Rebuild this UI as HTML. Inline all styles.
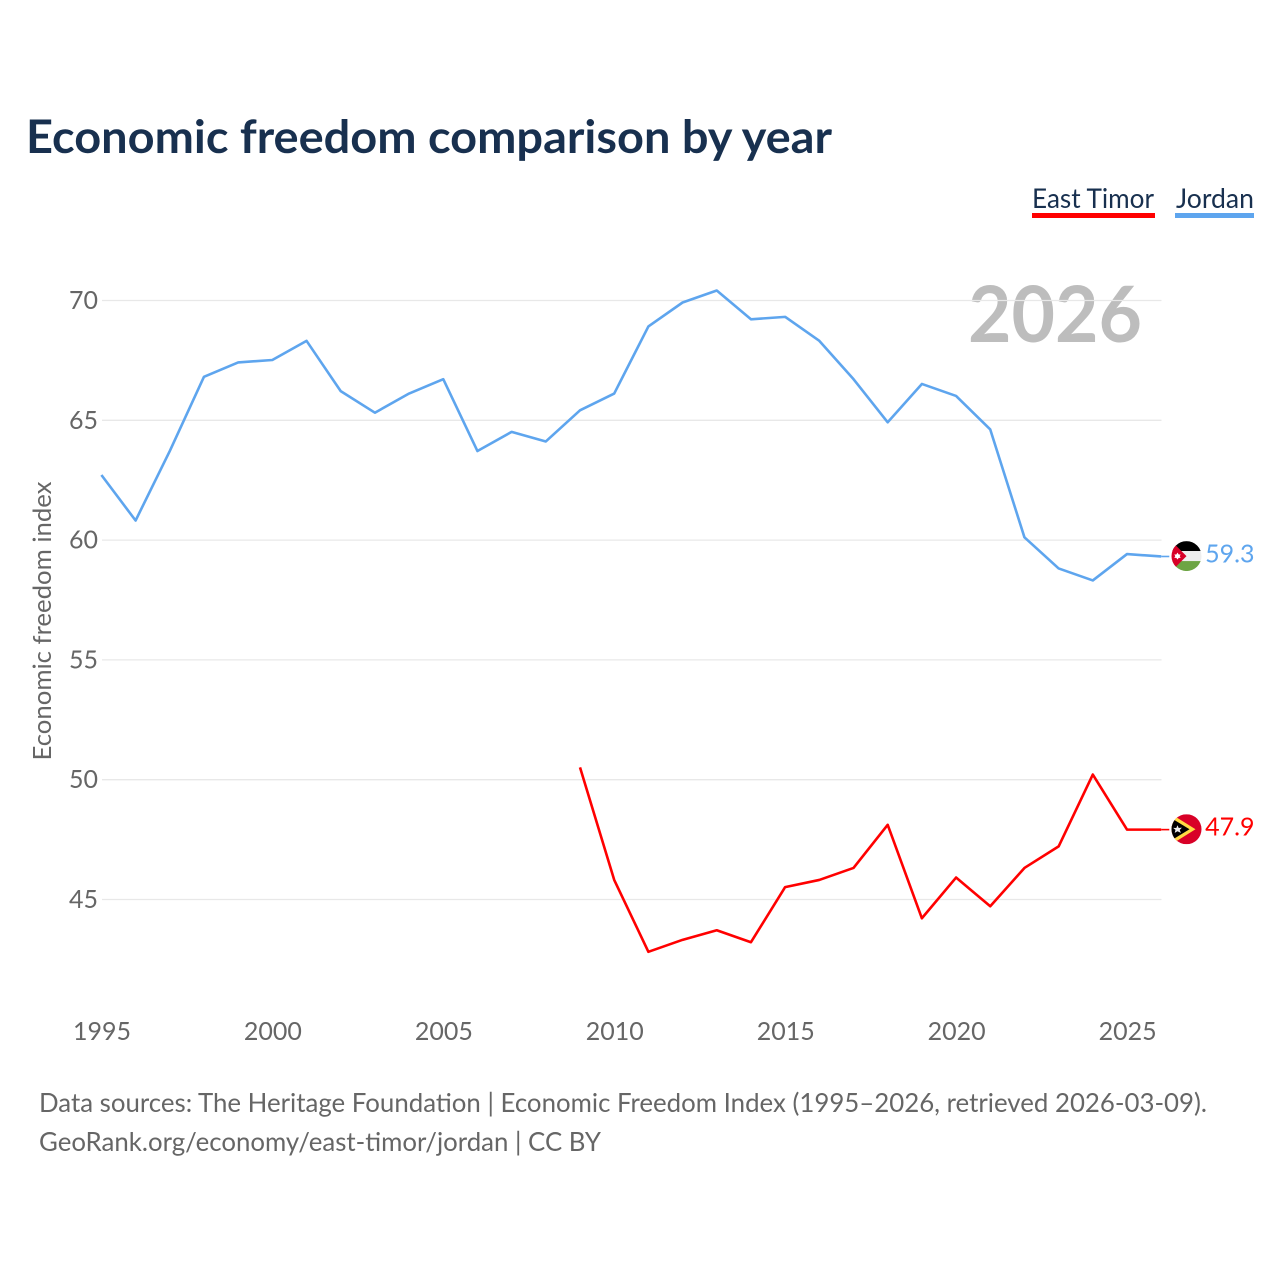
<!DOCTYPE html>
<html lang="en">
<head>
<meta charset="utf-8">
<title>Economic freedom comparison by year</title>
<style>
html,body{margin:0;padding:0;background:#fff;}
svg{display:block;}
text{font-family:"Lato","Carlito","Liberation Sans",sans-serif;}
</style>
</head>
<body>
<svg id="chart" xmlns="http://www.w3.org/2000/svg" width="1280" height="1280" viewBox="0 0 1280 1280">
  <rect x="0" y="0" width="1280" height="1280" fill="#ffffff"/>
  <text x="26" y="153" font-size="46" font-weight="700" fill="#18304f" textLength="806" lengthAdjust="spacingAndGlyphs">Economic freedom comparison by year</text>

  <g>
    <text x="1032" y="208" font-size="27" fill="#18304f" textLength="122" lengthAdjust="spacingAndGlyphs">East Timor</text>
    <rect x="1032" y="213" width="123" height="5" fill="#ff0000"/>
  </g>
  <g>
    <text x="1176" y="208" font-size="27" fill="#18304f" textLength="78" lengthAdjust="spacingAndGlyphs">Jordan</text>
    <rect x="1175" y="213" width="79" height="5" fill="#5ea5ee"/>
  </g>

  <text x="968" y="342" font-size="78" font-weight="700" fill="#bdbdbd" textLength="174" lengthAdjust="spacingAndGlyphs">2026</text>
  <text transform="translate(51,621) rotate(-90)" text-anchor="middle" font-size="25" fill="#666666" textLength="279" lengthAdjust="spacingAndGlyphs">Economic freedom index</text>

  <g id="grid"></g>
  <g id="yticks"></g>
  <g id="xticks"></g>
  <g id="series"></g>

  <defs>
    <clipPath id="clip-jordan"><circle cx="0" cy="0" r="15"/></clipPath>
    <clipPath id="clip-timor"><circle cx="0" cy="0" r="15"/></clipPath>
  </defs>
  <g id="flag-jordan">
    <g clip-path="url(#clip-jordan)">
      <rect x="-15" y="-15" width="30" height="10" fill="#000000"/>
      <rect x="-15" y="-5" width="30" height="10" fill="#eeeeee"/>
      <rect x="-15" y="5" width="30" height="10" fill="#6da544"/>
      <polygon points="-15,-15 0,0 -15,15" fill="#d80027"/>
      <polygon points="-9,-3.4 -7.8,-1.6 -5.8,-1.6 -6.8,0 -5.8,1.8 -7.8,1.8 -9,3.4 -10.2,1.8 -12.2,1.8 -11.2,0 -12.2,-1.6 -10.2,-1.6" fill="#ffffff"/>
    </g>
  </g>
  <g id="flag-timor">
    <g clip-path="url(#clip-timor)">
      <rect x="-15" y="-15" width="30" height="30" fill="#d80027"/>
      <polygon points="-15,-15 9,0 -15,15" fill="#ffda44"/>
      <polygon points="-15,-11 3,0 -15,11" fill="#000000"/>
      <polygon points="-9,-4 -7.8,-1.2 -4.6,-1.6 -6.8,0.8 -5.6,3.6 -9,2 -11.8,3.6 -11,0.6 -13.4,-1.4 -10.2,-1.2" fill="#eeeeee"/>
    </g>
  </g>
  <g id="end-labels"></g>

  <text x="39" y="1112" font-size="26" fill="#666666" textLength="1168" lengthAdjust="spacingAndGlyphs">Data sources: The Heritage Foundation | Economic Freedom Index (1995–2026, retrieved 2026-03-09).</text>
  <text x="39" y="1151" font-size="26" fill="#666666" textLength="562" lengthAdjust="spacingAndGlyphs">GeoRank.org/economy/east-timor/jordan | CC BY</text>
</svg>
<script>
const startYear = 1995;
const yTickLabels = [45, 50, 55, 60, 65, 70];
const xTickLabels = [1995, 2000, 2005, 2010, 2015, 2020, 2025];
const jordanYears = [1995,1996,1997,1998,1999,2000,2001,2002,2003,2004,2005,2006,2007,2008,2009,2010,2011,2012,2013,2014,2015,2016,2017,2018,2019,2020,2021,2022,2023,2024,2025,2026];
const jordanValues = [62.7,60.8,63.7,66.8,67.4,67.5,68.3,66.2,65.3,66.1,66.7,63.7,64.5,64.1,65.4,66.1,68.9,69.9,70.4,69.2,69.3,68.3,66.7,64.9,66.5,66.0,64.6,60.1,58.8,58.3,59.4,59.3];
const timorYears = [2009,2010,2011,2012,2013,2014,2015,2016,2017,2018,2019,2020,2021,2022,2023,2024,2025,2026];
const timorValues = [50.5,45.8,42.8,43.3,43.7,43.2,45.5,45.8,46.3,48.1,44.2,45.9,44.7,46.3,47.2,50.2,47.9,47.9];

const NS = 'http://www.w3.org/2000/svg';
function xScale(year) { return 102 + (year - startYear) * (1127.6 - 102) / 30; }
function yScale(value) { return 300.5 + (70 - value) * (899.5 - 300.5) / 25; }
function make(tag, attrs, parent, content) {
  const el = document.createElementNS(NS, tag);
  for (const k in attrs) el.setAttribute(k, attrs[k]);
  if (content !== undefined) el.textContent = content;
  parent.appendChild(el);
  return el;
}

const grid = document.getElementById('grid');
const yticks = document.getElementById('yticks');
const xticks = document.getElementById('xticks');
const series = document.getElementById('series');
const endLabels = document.getElementById('end-labels');

yTickLabels.forEach(function (v) {
  const line = make('line', {x1: 102, x2: 1161.5, y1: yScale(v), y2: yScale(v), stroke: '#e8e8e8', 'stroke-width': 1.3}, grid);
  
  
  const label = make('text', {x: 98, y: yScale(v) + 8.5, 'text-anchor': 'end', 'font-size': 25, fill: '#666666'}, yticks, String(v));
  
  
});

xTickLabels.forEach(function (y) {
  const label = make('text', {x: xScale(y), y: 1040, 'text-anchor': 'middle', 'font-size': 25, fill: '#666666'}, xticks, String(y));
  
  
});

function drawSeries(years, values, color, name, flagId) {
  const pts = years.map(function (y, i) { return (xScale(y) - 0.6).toFixed(2) + ',' + (yScale(values[i]) - 0.4).toFixed(2); }).join(' ');
  const line = make('polyline', {points: pts, fill: 'none', stroke: color, 'stroke-width': 2.6, 'stroke-linejoin': 'round'}, series);
  
  

  const lastYear = years[years.length - 1];
  const lastValue = values[values.length - 1];
  const lastX = xScale(lastYear);
  const lastY = yScale(lastValue) - 0.4;

  const connector = make('line', {x1: lastX - 0.6, x2: lastX + 7.5, y1: lastY, y2: lastY, stroke: color, 'stroke-width': 1.6}, series);
  
  

  document.getElementById(flagId).setAttribute('transform', 'translate(1186.5,' + (lastY - 0.4).toFixed(2) + ')');

  const label = make('text', {x: 1254.5, y: lastY + 6, 'text-anchor': 'end', 'font-size': 25, fill: color}, endLabels, lastValue.toFixed(1));
  
  
}

drawSeries(jordanYears, jordanValues, '#5ea5ee', 'jordan', 'flag-jordan');
drawSeries(timorYears, timorValues, '#ff0000', 'east-timor', 'flag-timor');
</script>
</body>
</html>
